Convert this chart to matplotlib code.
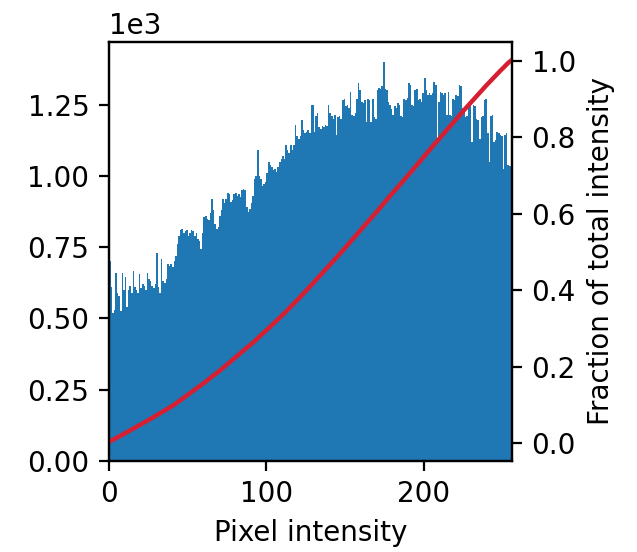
import matplotlib
matplotlib.use("Agg")
import matplotlib.pyplot as plt
from matplotlib.ticker import MultipleLocator
import numpy as np

# histogram counts for pixel values 0..255
counts = [
    700, 610, 520, 530, 660, 590, 580, 525, 660, 600, 645, 540, 600, 615, 590, 665,
    610, 600, 590, 655, 605, 620, 615, 600, 660, 640, 630, 615, 605, 620, 730, 610,
    590, 710, 630, 625, 640, 690, 685, 690, 680, 700, 720, 760, 790, 810, 815, 800,
    805, 810, 790, 800, 810, 805, 790, 800, 780, 770, 745, 800, 855, 860, 850, 845,
    870, 920, 880, 830, 815, 820, 860, 880, 920, 905, 920, 940, 935, 910, 915, 935,
    940, 930, 935, 925, 950, 955, 950, 890, 875, 885, 905, 930, 990, 1000, 1090, 1000,
    990, 965, 970, 980, 1010, 1050, 1040, 1030, 1020, 1025, 1015, 1030, 1050, 1060, 1070, 1060,
    1110, 1090, 1080, 1110, 1090, 1110, 1180, 1140, 1130, 1140, 1195, 1160, 1150, 1155, 1160, 1150,
    1250, 1250, 1155, 1210, 1220, 1170, 1165, 1175, 1170, 1180, 1175, 1250, 1220, 1210, 1200, 1215,
    1145, 1205, 1210, 1200, 1265, 1270, 1245, 1250, 1240, 1295, 1215, 1210, 1220, 1270, 1325, 1300,
    1260, 1255, 1265, 1190, 1270, 1265, 1190, 1270, 1205, 1200, 1300, 1310, 1305, 1315, 1400, 1305,
    1300, 1260, 1250, 1235, 1215, 1245, 1240, 1255, 1250, 1210, 1205, 1270, 1265, 1275, 1325, 1320,
    1250, 1245, 1300, 1305, 1265, 1270, 1260, 1290, 1345, 1300, 1285, 1290, 1285, 1290, 1330, 1320,
    1130, 1260, 1295, 1290, 1285, 1290, 1215, 1295, 1215, 1210, 1270, 1265, 1285, 1280, 1320, 1315,
    1240, 1230, 1205, 1210, 1250, 1245, 1120, 1250, 1245, 1200, 1195, 1130, 1205, 1210, 1265, 1270,
    1150, 1050, 1210, 1215, 1120, 1125, 1155, 1150, 1145, 1140, 1025, 1145, 1150, 1040, 1035, 805,
]
levels = np.arange(256)

counts = np.array(counts)
cdf = np.cumsum(counts) / counts.sum()

plt.rcParams['font.size'] = 10

fig, ax = plt.subplots(figsize=(3.185, 2.76), dpi=200)
fig.subplots_adjust(left=0.171, right=0.804, bottom=0.165, top=0.924)

ax.bar(levels, counts, width=1, align='edge', color='tab:blue')
ax.set_xlim(0, 256)
ax.yaxis.set_major_locator(MultipleLocator(250))
ax.ticklabel_format(axis='y', style='sci', scilimits=(0, 0))
ax.set_xlabel("Pixel intensity")

ax2 = ax.twinx()
ax2.plot(levels, cdf, color='#d62031', lw=1.6)
ax2.set_ylabel("Fraction of total intensity")
ax2.set_yticks([0.0, 0.2, 0.4, 0.6, 0.8, 1.0])

fig.savefig("out.png", dpi=200)
